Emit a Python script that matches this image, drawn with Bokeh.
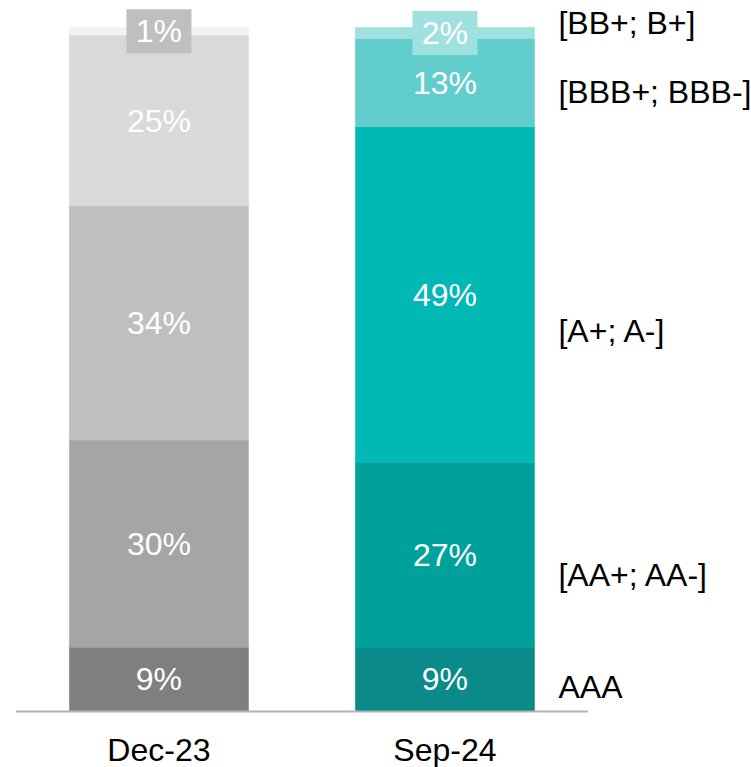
import numpy as np
from bokeh.plotting import figure
from bokeh.models import Range1d, ColumnDataSource
from bokeh.core.properties import value
from bokeh.embed import file_html
from bokeh.resources import INLINE

# ---- data ----
categories = ["Dec-23", "Sep-24"]
ratings = ["AAA", "[AA+; AA-]", "[A+; A-]", "[BBB+; BBB-]", "[BB+; B+]"]
dec23 = [9.4, 30.3, 34.2, 25.0, 1.1]
sep24 = [9.4, 27.0, 49.1, 12.9, 1.6]
dec_colors = ["#7f7f7f", "#a5a5a5", "#bfbfbf", "#d9d9d9", "#f2f2f2"]
sep_colors = ["#0a8a89", "#00a19a", "#00b8b4", "#62cdcd", "#a0e1e0"]
box_colors = ["#bfbfbf", "#a0e1e0"]
# vertical positions (in % units) of the rating labels at the right
rating_label_y = [3.6, 19.9, 55.7, 90.5, 100.7]

FONT = value("Liberation Sans")

p = figure(width=751, height=767,
           x_range=Range1d(-0.554, 2.072), y_range=Range1d(-8.19, 103.95),
           output_backend="svg", toolbar_location=None, min_border=0,
           x_axis_location=None, y_axis_location=None)
p.grid.visible = False
p.outline_line_color = None
p.background_fill_color = "white"

bar_w = 0.626
series = [dec23, sep24]
colors = [dec_colors, sep_colors]
for i, (vals, cols) in enumerate(zip(series, colors)):
    vals = np.array(vals)
    tops = np.cumsum(vals)
    bottoms = tops - vals
    src = ColumnDataSource(dict(x=[i] * len(vals), bottom=bottoms, top=tops,
                                color=cols, mid=(bottoms + tops) / 2,
                                label=[f"{round(v)}%" for v in vals]))
    p.vbar(x="x", bottom="bottom", top="top", width=bar_w, fill_color="color",
           line_color="color", line_width=0.6, source=src)
    # boxes behind tiny-segment labels
    small = [j for j, v in enumerate(vals) if v < 3]
    if small:
        p.rect(x=[i] * len(small), y=[((bottoms + tops) / 2)[j] for j in small],
               width=65, height=44, width_units="screen", height_units="screen",
               fill_color=box_colors[i], line_color=None)
    p.text(x="x", y="mid", text="label", source=src, text_align="center",
           text_baseline="middle", text_font=FONT, text_font_size="32px",
           text_color="white")

# baseline
p.segment(x0=[-0.5], y0=[0], x1=[1.5], y1=[0], line_color="#b4b4b4", line_width=2)

# category labels
p.text(x=list(range(len(categories))), y=[-5.7] * len(categories), text=categories,
       text_align="center", text_baseline="middle", text_font=FONT,
       text_font_size="32px", text_color="black")

# rating labels at right
p.text(x=[1.397] * len(ratings), y=rating_label_y, text=ratings,
       text_align="left", text_baseline="middle", text_font=FONT,
       text_font_size="32px", text_color="black")

open("out.html", "w").write(file_html(p, INLINE))
